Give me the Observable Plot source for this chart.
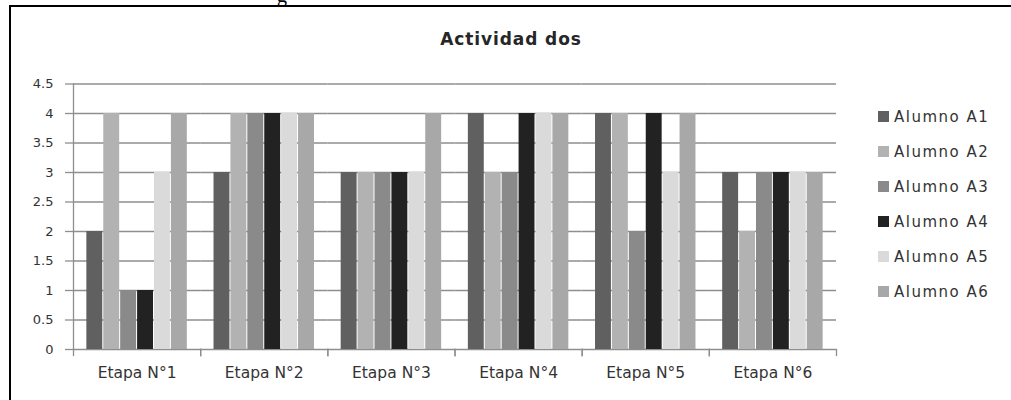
<!DOCTYPE html>
<html>
<head>
<meta charset="utf-8">
<script src="https://cdn.jsdelivr.net/npm/d3@7"></script>
<script src="https://cdn.jsdelivr.net/npm/@observablehq/plot@0.6"></script>
<style>
  html, body { margin: 0; background: #fff; overflow: hidden; }
  #wrap { position: relative; width: 1011px; height: 400px; overflow: hidden; font-family: "DejaVu Sans", sans-serif; background: #fff; }
  #lineTop { position: absolute; left: 9px; top: 5px; width: 1002px; height: 2px; background: #000; }
  #lineLeft { position: absolute; left: 9px; top: 5px; width: 2px; height: 395px; background: #000; }
  #cover { position: absolute; left: 995px; top: 8px; width: 16px; height: 392px; background: #fff; z-index: 5; }
  #chart { position: absolute; left: 0; top: 0; }
  #title { position: absolute; left: 0; width: 1022px; top: 29px; text-align: center; font-weight: bold; font-size: 17px; letter-spacing: 0.9px; color: #262626; }
  #legend { position: absolute; left: 878px; top: 99px; }
  .row { display: flex; align-items: center; height: 35px; font-size: 15px; color: #333; letter-spacing: 1.5px; }
  .sw { width: 11px; height: 11px; margin-right: 5px; }
  #stray { position: absolute; left: 277px; top: -16px; font-family: "Liberation Serif", serif; font-size: 20px; color: #000; }
</style>
</head>
<body>
<div id="wrap">
  <div id="stray">g</div>
  <div id="lineTop"></div>
  <div id="lineLeft"></div>
  <div id="title">Actividad dos</div>
  <div id="chart"></div>
  <div id="legend"></div>
  <div id="cover"></div>
</div>
<script>
const etapas = ["Etapa N°1", "Etapa N°2", "Etapa N°3", "Etapa N°4", "Etapa N°5", "Etapa N°6"];
const alumnos = ["Alumno A1", "Alumno A2", "Alumno A3", "Alumno A4", "Alumno A5", "Alumno A6"];
const grises = ["#606060", "#b2b2b2", "#8a8a8a", "#222222", "#dadada", "#a8a8a8"];
const valoresA1 = [2, 3, 3, 4, 4, 3];
const valoresA2 = [4, 4, 3, 3, 4, 2];
const valoresA3 = [1, 4, 3, 3, 2, 3];
const valoresA4 = [1, 4, 3, 4, 4, 3];
const valoresA5 = [3, 4, 3, 4, 3, 3];
const valoresA6 = [4, 4, 4, 4, 4, 3];
const yTicks = [0, 0.5, 1, 1.5, 2, 2.5, 3, 3.5, 4, 4.5];

const series = [valoresA1, valoresA2, valoresA3, valoresA4, valoresA5, valoresA6];
const data = [];
etapas.forEach((e, i) => alumnos.forEach((a, j) => data.push({etapa: e, alumno: a, valor: series[j][i]})));

const W = 1011, H = 400, mt = 83.5, mb = 51, ml = 73, mr = 175;
const grid = "#8e8e8e";

const plot = Plot.plot({
  width: W, height: H,
  marginTop: mt, marginBottom: mb, marginLeft: ml, marginRight: mr,
  style: {fontFamily: "DejaVu Sans, sans-serif", color: "#333", background: "transparent"},
  fx: {domain: etapas, padding: 0, round: false, label: null},
  x: {domain: alumnos, paddingInner: 0, paddingOuter: 0.76, round: false, axis: null},
  y: {domain: [0, 4.5], label: null},
  color: {domain: alumnos, range: grises},
  marks: [
    Plot.gridY(yTicks, {stroke: grid, strokeOpacity: 1, strokeWidth: 1.3}),
    Plot.frame({anchor: "left", facetAnchor: "left", stroke: grid, strokeWidth: 1.3}),
    Plot.frame({anchor: "left", stroke: grid, strokeWidth: 1.3, insetTop: H - mt - mb, insetBottom: -6}),
    Plot.frame({anchor: "right", stroke: grid, strokeWidth: 1.3, insetTop: H - mt - mb, insetBottom: -6}),
    Plot.barY(data, {fx: "etapa", x: "alumno", y: "valor", fill: "alumno", insetLeft: 0.5, insetRight: 0.5}),
    Plot.axisY(yTicks, {tickSize: 8, tickPadding: 12, stroke: grid, strokeWidth: 1.3, fontSize: 13, fill: "#333", tickFormat: d => String(d), label: null}),
    Plot.axisFx({anchor: "bottom", tickSize: 0, tickPadding: 17, fontSize: 15.5, fill: "#333", label: null, style: {letterSpacing: "1.3px"}})
  ]
});
document.getElementById("chart").appendChild(plot);

const color = plot.scale("color");
const legend = document.getElementById("legend");
alumnos.forEach(a => {
  const row = document.createElement("div");
  row.className = "row";
  const sw = document.createElement("div");
  sw.className = "sw";
  sw.style.background = color.apply(a);
  const t = document.createElement("span");
  t.textContent = a;
  row.appendChild(sw); row.appendChild(t);
  legend.appendChild(row);
});
</script>
</body>
</html>
